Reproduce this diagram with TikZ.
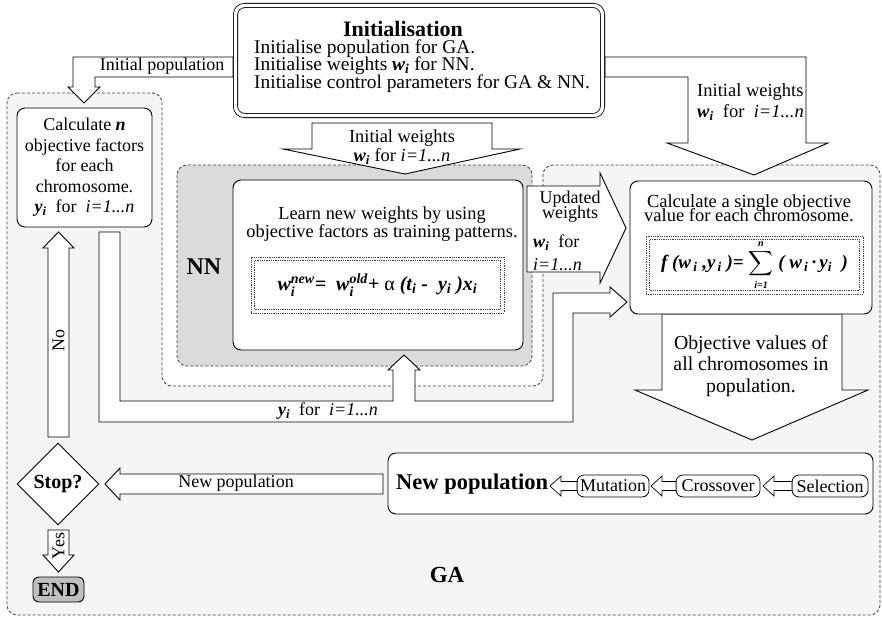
\documentclass[tikz,border=0pt]{standalone}
\usepackage{exscale}
\usepackage{fontspec}
\setmainfont{Liberation Serif}
\usetikzlibrary{shapes.geometric,positioning}

\newcommand{\bi}[1]{\textbf{\textit{#1}}}
\newcommand{\wsub}[2]{\bi{#1}\textsubscript{\bi{#2}}}
\newcommand{\wsubsup}[3]{\ensuremath{\mbox{\bi{#1}}_{\mbox{\fontsize{14}{14}\selectfont\bi{#2}}}^{\mbox{\fontsize{14}{14}\selectfont\bi{#3}}}}}
\newcommand{\tightlines}{\lineskiplimit=-20pt\relax}

\tikzset{
    lbl/.style={inner sep=0pt, align=center, font=\fontsize{18}{20}\selectfont},
    box/.style={draw, fill=white, rounded corners=8pt, line width=0.9pt, inner sep=0pt, align=center, font=\fontsize{18}{20.5}\selectfont},
    pill/.style={draw, fill=white, rounded corners=7pt, line width=0.8pt, inner sep=0pt, font=\fontsize{18}{18}\selectfont},
    fbox/.style={draw=black!75, densely dotted, line width=0.8pt, inner sep=0pt},
    blockarrow/.style={draw, fill=white, line width=0.9pt, line join=miter},
    region/.style={draw=black!75, dash pattern=on 3pt off 2pt, line width=0.8pt, rounded corners=10pt}
}

\begin{document}
\begin{tikzpicture}[x=1pt, y=-1pt]
                        \useasboundingbox (0,0) rectangle (882,618);
                        \fill[white] (0,0) rectangle (882,618);
                        % regions
                        \draw[region, fill=black!4] (7,93) -- (162,93) -- (162,386) -- (543,386) -- (543,165) -- (880,165) -- (880,615) -- (7,615) -- cycle;
                        \draw[region, fill=black!14] (177,165) rectangle (532,366);
                        % block arrows
                        \draw[blockarrow] (233,57) -- (73,57) -- (73,87) -- (68,87) -- (84,103) -- (100,87) -- (95,87) -- (95,77) -- (233,77) -- cycle;
                        \draw[blockarrow] (605,57) -- (806,57) -- (806,143) -- (828,143) -- (754,175) -- (667,143) -- (688,143) -- (688,77) -- (605,77) -- cycle;
                        \draw[blockarrow] (312,123) -- (492,123) -- (492,149) -- (520,149) -- (405,174) -- (283,149) -- (312,149) -- cycle;
                        \draw[blockarrow] (99,232) -- (99,422) -- (573,422) -- (573,313) -- (610,313) -- (610,317) -- (627,302) -- (610,287) -- (610,293) -- (553,293) -- (553,401) -- (415,401) -- (415,370) -- (420,370) -- (404,355) -- (388,370) -- (393,370) -- (393,401) -- (120,401) -- (120,232) -- cycle;
                        \draw[blockarrow] (48,437) -- (48,248) -- (43,248) -- (58.5,232) -- (74,248) -- (69,248) -- (69,437) -- cycle;
                        \draw[blockarrow] (48,530) -- (69,530) -- (69,555) -- (74,555) -- (58.5,572) -- (43,555) -- (48,555) -- cycle;
                        \draw[blockarrow] (383,474) -- (120,474) -- (120,468) -- (105,484) -- (120,500) -- (120,494) -- (383,494) -- cycle;
                        \draw[blockarrow] (662,314) -- (842,314) -- (842,390) -- (868,390) -- (752,440) -- (635,390) -- (662,390) -- cycle;
                        \draw[blockarrow] (527,186) -- (600,186) -- (600,173) -- (626,228) -- (600,283) -- (600,272) -- (527,272) -- cycle;
                        % boxes
                        \node[box, double, double distance=3.4pt, line width=0.8pt, rounded corners=9pt, minimum width=367, minimum height=110] (init) at (419,60.5) {};
                        \node[box, minimum width=135, minimum height=119] (calcfac) at (84.5,167.5) {Calculate \bi{n}\\ objective factors\\ for each\\ chromosome.\\ \wsub{y}{i}\ \ for\ \ \textit{i=1...n}};
                        \node[box, minimum width=290, minimum height=170] (learn) at (378,265) {};
                        \node[box, minimum width=242, minimum height=133] (calcobj) at (751,247.5) {};
                        \node[box, minimum width=485, minimum height=61] (newpop) at (630.5,483.5) {};
                        \node[box, diamond, minimum width=82, minimum height=82, rounded corners=0pt, font=\fontsize{20}{20}\bfseries] (stop) at (58,484) {Stop?};
                        \node[box, fill=black!25, minimum width=51, minimum height=25, rounded corners=6pt, font=\fontsize{20}{20}\bfseries] (finish) at (58.5,589.5) {END};
                        \node[fbox, minimum width=253, minimum height=56] (nnrule) at (377.5,285) {};
                        \node[fbox, minimum width=246, minimum height=49] (nnruletxt) at (377.5,285) {\bfseries\itshape\fontsize{20}{20}\selectfont \wsubsup{w}{i}{new}= \ \wsubsup{w}{i}{old}+ {\upshape\mdseries α} (\wsub{t}{i} -\ \ \wsub{y}{i} )\wsub{x}{i}};
                        \node[fbox, minimum width=217, minimum height=58] (objrule) at (754.5,265) {};
                        \node[fbox, minimum width=210, minimum height=51] (objruletxt) at (754.5,265) {\bfseries\itshape\fontsize{19}{19}\selectfont \bi{f} (\wsub{w}{\,i} ,\wsub{y}{\,i} )= \ensuremath{\displaystyle\sum_{\mbox{\fontsize{10}{10}\selectfont\bi{i=1}}}^{\mbox{\fontsize{10}{10}\selectfont\bi{n}}}} ( \wsub{w}{\,i}\,·\,\wsub{y}{i}\ \ )};
                        \node[pill, minimum width=72, minimum height=22] (mutation) at (613,486) {Mutation};
                        \node[pill, minimum width=84, minimum height=22] (crossover) at (718,486) {Crossover};
                        \node[pill, minimum width=76, minimum height=22] (selection) at (830,486) {Selection};
                        \foreach \tip/\tail in {550/577, 651/676, 763/792}
                            \draw[blockarrow, line width=0.7pt] (\tip,486) -- (\tip+11,476) -- (\tip+11,481.5) -- (\tail,481.5) -- (\tail,490.5) -- (\tip+11,490.5) -- (\tip+11,496) -- cycle;
                        % texts
                        \node[lbl, font=\fontsize{22}{24}\bfseries] (inittitle) at (403,29) {Initialisation};
                        \node[lbl, anchor=west, align=left, font=\fontsize{19.4}{17.5}\selectfont\tightlines] (initlines) at (254,66) {Initialise population for GA.\\ Initialise weights \wsub{w}{i} for NN.\\ Initialise control parameters for GA \& NN.};
                        \node[lbl] (initpop) at (162,66) {Initial population};
                        \node[lbl, anchor=west, align=left, font=\fontsize{18.5}{21}\selectfont] (initwr) at (697,102) {Initial weights\\ \wsub{w}{i}\ \ for\ \ \textit{i=1...n}};
                        \node[lbl, font=\fontsize{18.4}{19}\selectfont] (initwc) at (402,147) {Initial weights\\ \wsub{w}{i} for \textit{i=1...n}};
                        \node[lbl, font=\fontsize{24}{24}\bfseries] (nnlbl) at (204,267) {NN};
                        \node[lbl, font=\fontsize{18.4}{18}\selectfont] (learntxt) at (382,224) {Learn new weights by using\\ objective factors as training patterns.};
                        \node[lbl, font=\fontsize{18}{15}\selectfont\tightlines] (upd1) at (570,207) {Updated\\ weights};
                        \node[lbl, anchor=west, align=left, font=\fontsize{18}{23}\selectfont] (upd2) at (533,253) {\wsub{w}{i}\ \ for\\ \textit{i=1...n}};
                        \node[lbl, font=\fontsize{18.5}{14}\selectfont\tightlines] (calctxt) at (749,208) {Calculate a single objective\\ value for each chromosome.};
                        \node[lbl, font=\fontsize{19.8}{21.5}\selectfont] (objtxt) at (751,366) {Objective values of\\ all chromosomes in\\ population.};
                        \node[lbl] (yilbl) at (328,411) {\wsub{y}{i}\ \ for\ \ \textit{i=1...n}};
                        \node[lbl, rotate=90] (nolbl) at (58.5,340) {No};
                        \node[lbl, rotate=90] (yeslbl) at (58.5,546) {Yes};
                        \node[lbl] (newpoparrow) at (236,483) {New population};
                        \node[lbl, anchor=west, font=\fontsize{22.5}{22}\bfseries] (newpoplbl) at (396,484) {New population};
                        \node[lbl, font=\fontsize{23}{23}\bfseries] (galbl) at (447,575) {GA};
                    \end{tikzpicture}
\end{document}
